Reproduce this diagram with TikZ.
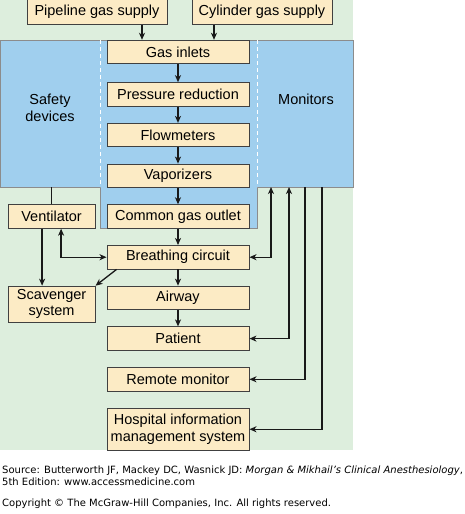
\documentclass[tikz,border=0pt]{standalone}
\usepackage{fontspec}
\setmainfont{Liberation Sans}
\newfontfamily\footfont{DejaVu Sans}
\usetikzlibrary{arrows.meta,positioning}
\definecolor{bggreen}{RGB}{221,238,221}
\definecolor{panelblue}{RGB}{160,207,238}
\definecolor{boxtan}{RGB}{252,235,197}
\tikzset{
  block/.style={draw=black!75, fill=boxtan, line width=0.9pt, align=center,
    minimum height=23.5pt, inner sep=2pt, font=\fontsize{14.5}{16.5}\selectfont},
  midblock/.style={block, minimum width=142pt},
  sideblock/.style={block, minimum width=87pt},
  supply/.style={block, minimum width=140pt, minimum height=25pt},
  arr/.style={-{Stealth[length=7pt,width=6pt,inset=2pt]}, line width=1.3pt, draw=black!90},
  darr/.style={{Stealth[length=7pt,width=6pt,inset=2pt]}-{Stealth[length=7pt,width=6pt,inset=2pt]}, line width=1.3pt, draw=black!90},
  link/.style={line width=1.3pt, draw=black!90},
  divider/.style={draw=white, line width=1pt, dash pattern=on 4pt off 3pt},
  tag/.style={align=center, font=\fontsize{14.5}{17}\selectfont},
  foot/.style={anchor=base west, inner sep=0pt, font=\footfont\fontsize{10}{12}\selectfont}
}
\begin{document}
\begin{tikzpicture}[x=1pt, y=-1pt, node distance=16.3pt]
  \useasboundingbox (0,0) rectangle (465,514);
  \fill[bggreen] (0,0) rectangle (353,450);
  \filldraw[fill=panelblue, draw=black!45, line width=0.6pt]
    (0,40) -- (353,40) -- (353,187) -- (257,187) -- (257,228) -- (100,228) -- (100,187) -- (0,187) -- cycle;
  \draw[divider] (100,40) -- (100,187);
  \draw[divider] (257,40) -- (257,187);
  \coordinate (panel) at (257,187);

  \node[tag] (safety) at (50,108) {Safety\\devices};
  \node[tag] (monitors) at (306,99) {Monitors};

  \node[supply] (pipe) at (97,12) {Pipeline gas supply};
  \node[supply] (cyl) at (262,12) {Cylinder gas supply};

  % gas path
  \node[midblock] (inlets) at (178,52) {Gas inlets};
  \node[midblock, below=18pt of inlets] (press) {Pressure reduction};
  \node[midblock, below=of press] (flow) {Flowmeters};
  \node[midblock, below=of flow] (vapor) {Vaporizers};
  \node[midblock, below=of vapor] (outlet) {Common gas outlet};
  \node[midblock, below=of outlet] (breath) {Breathing circuit};
  \node[midblock, below=of breath] (airway) {Airway};
  \node[midblock, below=of airway] (patient) {Patient};
  \node[midblock, below=of patient] (remote) {Remote monitor};
  \node[midblock, below=of remote, minimum height=42pt] (hims) {Hospital information\\management system};

  \node[sideblock, left=11pt of outlet] (vent) {Ventilator};
  \node[sideblock, minimum height=36pt, anchor=north] (scav) at (vent.south |- airway.north) {Scavenger\\system};

  \draw[arr] ([xshift=45pt]pipe.south) -- ([xshift=-36pt]inlets.north);
  \draw[arr] ([xshift=-48pt]cyl.south) -- ([xshift=36pt]inlets.north);
  \foreach \a/\b in {inlets/press, press/flow, flow/vapor, vapor/outlet,
                     outlet/breath, breath/airway, airway/patient}
    \draw[arr] (\a) -- (\b);

  \draw[link] (vent.north) -- (vent.north |- panel);
  \draw[arr] ([xshift=-9.5pt]vent.south) -- ([xshift=-9.5pt]vent.south |- scav.north);
  \draw[darr] (breath.west) -| ([xshift=9.5pt]vent.south);
  \draw[arr] ([xshift=10pt]breath.south west) -- (scav.north east);

  \draw[darr] (breath.east) -| ([xshift=14pt]panel);
  \draw[darr] (patient.east) -| ([xshift=32pt]panel);
  \draw[arr] ([xshift=48pt]panel) |- (remote.east);
  \draw[arr] ([xshift=65pt]panel) |- (hims.east);

  \node[foot] (src1) at (2,473) {Source: Butterworth JF, Mackey DC, Wasnick JD: \textit{Morgan \& Mikhail’s Clinical Anesthesiology},};
  \node[foot] (src2) at (2,485) {5th Edition: www.accessmedicine.com};
  \node[foot] (copy) at (2,506) {Copyright © The McGraw-Hill Companies, Inc. All rights reserved.};
\end{tikzpicture}
\end{document}
